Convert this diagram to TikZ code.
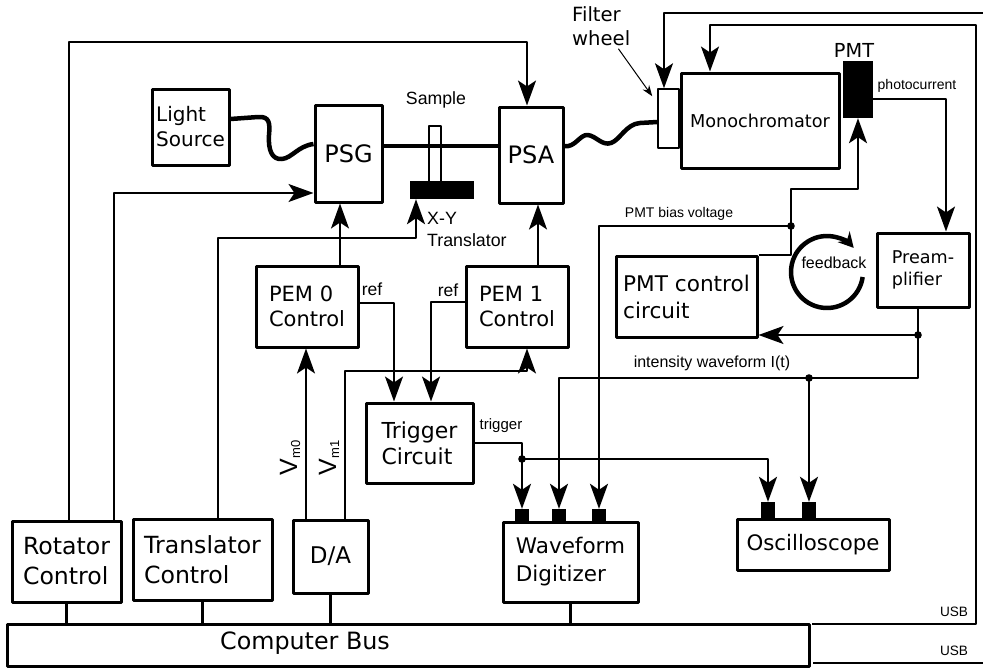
\documentclass[tikz,border=0pt]{standalone}
\usepackage{fontspec}
\setmainfont{DejaVu Sans}
\newfontfamily\lblfont{Liberation Sans}
\usetikzlibrary{arrows.meta,calc}
\begin{document}
\begin{tikzpicture}[x=1pt,y=-1pt,line join=round,
	arr/.style={-{Stealth[length=25pt,width=18pt,inset=6pt]}},
	box/.style={draw,line width=3pt,inner sep=0pt,align=left},
	thinbox/.style={draw,line width=1.5pt,inner sep=0pt},
	blk/.style={fill=black,inner sep=0pt},
	conn/.style={line width=2pt},
	busline/.style={line width=3pt},
	fiber/.style={line width=4.5pt},
	port/.style={blk,minimum width=14pt,minimum height=13pt},
	lbl/.style={font=\lblfont\fontsize{14}{17}\selectfont,inner sep=0pt}]
	\useasboundingbox (0,0) rectangle (983,667);
	% optical part
	\node[box,minimum width=77pt,minimum height=76pt,font=\fontsize{20}{25}\selectfont] (light) at (190.5,127) {Light\\Source};
	\node[box,minimum width=67pt,minimum height=97pt,font=\fontsize{24}{28}\selectfont] (psg) at (348.5,153.5) {PSG};
	\node[box,minimum width=64pt,minimum height=96pt,font=\fontsize{24}{28}\selectfont] (psa) at (531,155) {PSA};
	\node[thinbox,minimum width=12pt,minimum height=56pt] (sample) at (435,154) {};
	\node[blk,minimum width=64pt,minimum height=18pt] (xy) at (442,190) {};
	\node[thinbox,minimum width=21pt,minimum height=59pt] (filter) at (668.5,118.5) {};
	\node[box,minimum width=158pt,minimum height=95pt,font=\fontsize{17.7}{22}\selectfont] (mono) at (760,120.5) {Monochromator};
	\node[blk,minimum width=30pt,minimum height=57pt] (pmt) at (858,89.5) {};
	% electronics
	\node[box,minimum width=141pt,minimum height=81pt,font=\fontsize{21.6}{27}\selectfont] (pmtc) at (686.5,296.5) {PMT control\\circuit};
	\node[box,minimum width=92pt,minimum height=74pt,font=\fontsize{17.6}{21.5}\selectfont] (pre) at (923,270) {Pream-\\plifier};
	\node[box,minimum width=102pt,minimum height=81pt,font=\fontsize{21}{25}\selectfont] (pem0) at (307,306.5) {PEM 0\\Control};
	\node[box,minimum width=102pt,minimum height=81pt,font=\fontsize{21}{25}\selectfont] (pem1) at (517,306.5) {PEM 1\\Control};
	\node[box,minimum width=107pt,minimum height=80pt,font=\fontsize{22}{26}\selectfont] (trig) at (419.5,443) {Trigger\\Circuit};
	\node[box,minimum width=109pt,minimum height=81pt,font=\fontsize{23.6}{30}\selectfont] (rot) at (66.5,561.5) {Rotator\\Control};
	\node[box,minimum width=139pt,minimum height=81pt,font=\fontsize{23.6}{30}\selectfont] (trans) at (202.5,559.5) {Translator\\Control};
	\node[box,minimum width=75pt,minimum height=73pt,font=\fontsize{23}{28}\selectfont] (da) at (330.5,556.5) {D/A};
	\node[box,minimum width=135pt,minimum height=80pt,font=\fontsize{21.5}{28}\selectfont] (dig) at (570.5,562) {Waveform\\Digitizer};
	\node[box,minimum width=152pt,minimum height=51pt,font=\fontsize{21.3}{26}\selectfont] (osc) at (813,544.5) {Oscilloscope};
	\node[box,minimum width=802pt,minimum height=42pt] (bus) at (408,645) {};
	\node[font=\fontsize{23.8}{28}\selectfont,inner sep=0pt] (bustext) at (305,643) {Computer Bus};
	\node[port] (d1) at (522,515.5) {};
	\node[port] (d2) at (559,515.5) {};
	\node[port] (d3) at (599,515.5) {};
	\node[port,minimum height=16pt] (o1) at (768,510) {};
	\node[port,minimum height=16pt] (o2) at (809,510) {};
	% labels
	\node[lbl,font=\lblfont\fontsize{17.7}{22}\selectfont] (samplelbl) at (436,100) {Sample};
	\node[lbl,font=\lblfont\fontsize{17.8}{22}\selectfont,align=left,anchor=west] (xylbl) at (427,229) {X-Y\\Translator};
	\node[font=\fontsize{19.6}{24}\selectfont,inner sep=0pt,align=left,anchor=west] (filterlbl) at (572,26) {Filter\\wheel};
	\node[font=\fontsize{19.3}{24}\selectfont,inner sep=0pt] (pmtlbl) at (854,50) {PMT};
	\node[lbl] (photolbl) at (917,86) {photocurrent};
	\node[lbl] (biaslbl) at (679,214) {PMT bias voltage};
	\node[lbl,font=\lblfont\fontsize{16}{19}\selectfont] (intlbl) at (712,363) {intensity waveform I(t)};
	\node[lbl,font=\lblfont\fontsize{16}{19}\selectfont] (fblbl) at (834,263) {feedback};
	\node[lbl,font=\lblfont\fontsize{15}{18}\selectfont] (triglbl) at (501,426) {trigger};
	\node[lbl,font=\lblfont\fontsize{17.5}{20}\selectfont] (ref0) at (372,289) {ref};
	\node[lbl,font=\lblfont\fontsize{17.5}{20}\selectfont] (ref1) at (448,290) {ref};
	\node[lbl,font=\lblfont\fontsize{13.6}{16}\selectfont] (usb1) at (954,612) {USB};
	\node[lbl,font=\lblfont\fontsize{13.6}{16}\selectfont] (usb2) at (954,651) {USB};
	\node[lbl,font=\lblfont\fontsize{25}{28}\selectfont,rotate=90] (vm0) at (290,458) {V{\fontsize{13}{13}\selectfont\raisebox{-3pt}{m0}}};
	\node[lbl,font=\lblfont\fontsize{25}{28}\selectfont,rotate=90] (vm1) at (329,458) {V{\fontsize{13}{13}\selectfont\raisebox{-3pt}{m1}}};
	% light path
	\draw[fiber] ([yshift=8pt]light.east) -- (258,117) .. controls (270,116) and (270,124) .. (269,135)
		.. controls (268,150) and (272,160) .. (282,159) .. controls (292,158) and (298,146) .. ([yshift=9.5pt]psg.west);
	\draw[fiber,line width=4pt] ([yshift=7.5pt]psg.east) -- ([yshift=9pt]psa.west);
	\draw[fiber] ([yshift=9pt]psa.east) .. controls (575,148) and (580,134) .. (588,135) .. controls (596,136) and (602,146) .. (611,143)
		.. controls (620,140) and (626,124) .. (640,123) -- ([yshift=-3.5pt]filter.west);
	\draw[line width=1pt,-{Stealth[length=11pt,width=8pt]}] ([xshift=-12pt,yshift=-3pt]filterlbl.south east) -- ([xshift=-5pt,yshift=-8pt]filter.north west);
	% motion control
	\draw[conn,arr] ([xshift=2.5pt]rot.north) |- (527,42) -- ([xshift=-4pt]psa.north);
	\draw[conn,arr] ([xshift=47.5pt]rot.north) |- ([yshift=-39.5pt]psg.west);
	\draw[conn,arr] ([xshift=15.5pt]trans.north) |- (416,238) -- ([xshift=-26pt]xy.south);
	% modulators
	\draw[conn,arr] ([xshift=33pt]pem0.north) -- ([xshift=-8.5pt]psg.south);
	\draw[conn,arr] ([xshift=21pt]pem1.north) -- ([xshift=7pt]psa.south);
	\draw[conn,arr] ([yshift=3.5pt]pem0.east) -| ([xshift=-25.5pt]trig.north);
	\draw[conn,arr] ([yshift=4.5pt]pem1.west) -| ([xshift=11.5pt]trig.north);
	\draw[conn,arr] ([xshift=-24.5pt]da.north) -- ([xshift=-1pt]pem0.south);
	\draw[conn,arr] ([xshift=14.5pt]da.north) |- (527,371) -- ([xshift=10pt]pem1.south);
	% trigger
	\coordinate (tdot) at (522,459);
	\draw[conn,arr] (trig.east) -| (tdot) -- (d1.north);
	\draw[conn,arr] (tdot) -| (o1.north);
	% detector signal
	\coordinate (fbdot) at (918,335);
	\coordinate (iwdot) at (809,378);
	\coordinate (bdot) at (791,226);
	\draw[conn,arr] ([yshift=-9.5pt]pmt.east) -| ([xshift=23pt]pre.north);
	\draw[conn] ([xshift=-5pt]pre.south) -- (fbdot);
	\draw[conn,arr] (fbdot) -- (fbdot -| pmtc.east);
	\draw[conn,arr] (fbdot) |- (iwdot) -| (d2.north);
	\draw[conn,arr] (iwdot) -- (o2.north);
	\draw[conn] (pmtc.north east) -| (bdot);
	\draw[conn,arr] (bdot) -- (791,189) -| (pmt.south);
	\draw[conn,arr] (bdot) -| (d3.north);
	\fill (tdot) circle[radius=3.8pt] (fbdot) circle[radius=3.8pt] (iwdot) circle[radius=3.8pt] (bdot) circle[radius=3.8pt];
	\coordinate (fbc) at (827,272);
	\draw[line width=4.5pt,-{Stealth[length=15pt,width=16pt]}] ($(fbc)+(8:36)$) arc[start angle=8,end angle=318,radius=36];
	% USB
	\coordinate (usbA) at (812,624);
	\coordinate (usbB) at (813,663);
	\draw[conn,arr] (usbA) -| (976,25) -| ([xshift=-50pt]mono.north);
	\draw[conn,arr] (983,13) -| ([xshift=-4.5pt]filter.north);
	\draw[conn] (usbB) -- (983,663);
	% bus
	\draw[busline] (rot.south) -- (rot.south |- bus.north);
	\draw[busline] (trans.south) -- (trans.south |- bus.north);
	\draw[busline] (da.south) -- (da.south |- bus.north);
	\draw[busline] (dig.south) -- (dig.south |- bus.north);
\end{tikzpicture}
\end{document}
